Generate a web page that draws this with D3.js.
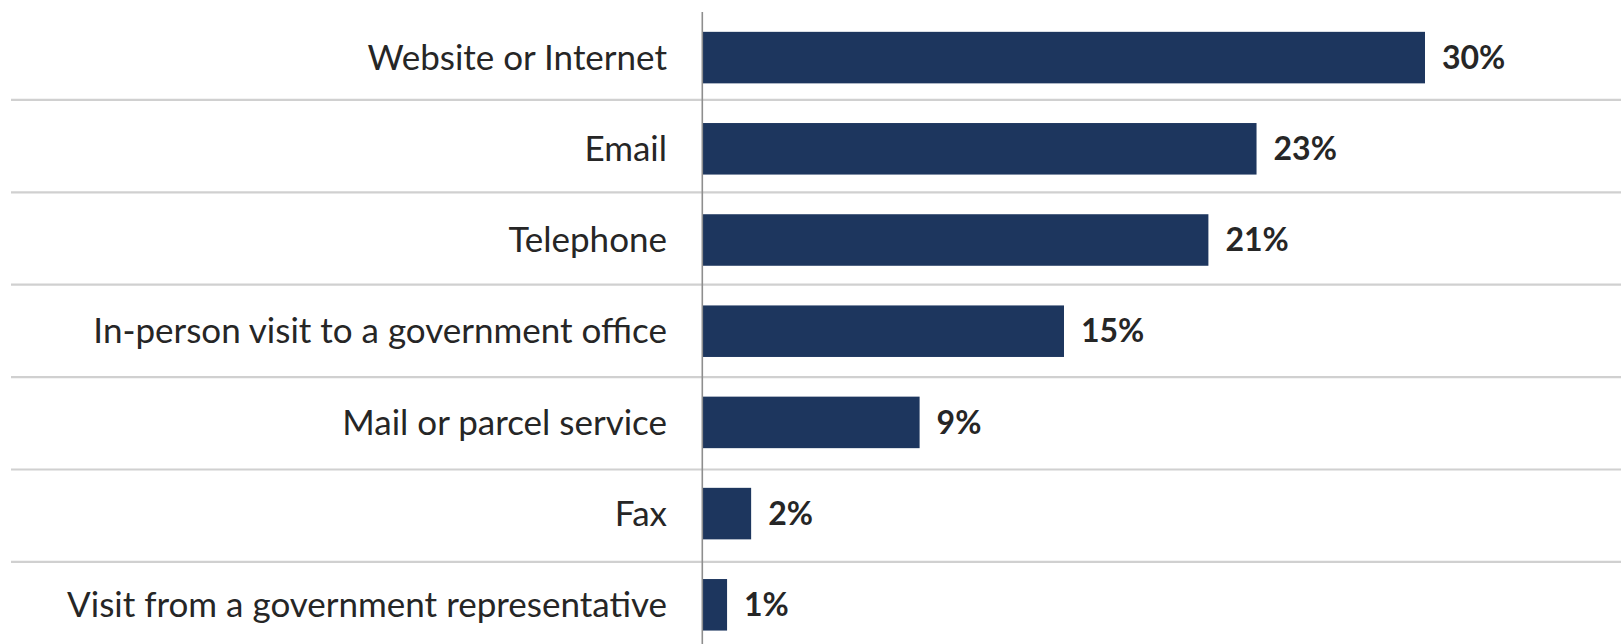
<!DOCTYPE html>
<html>
<head>
<meta charset="utf-8">
<script src="https://cdn.jsdelivr.net/npm/d3@7"></script>
<style>
  html, body { margin: 0; padding: 0; background: #ffffff; }
  svg { display: block; }
</style>
</head>
<body>
<svg id="chart" width="1621" height="644"></svg>
<script>
// Channels used to contact government, share of respondents (%)
const categories = [
  "Website or Internet",
  "Email",
  "Telephone",
  "In-person visit to a government office",
  "Mail or parcel service",
  "Fax",
  "Visit from a government representative"
];
const values = [30, 23, 21, 15, 9, 2, 1];
const valueLabels = ["30%", "23%", "21%", "15%", "9%", "2%", "1%"];

const W = 1621, H = 644;
const svg = d3.select("#chart");

const x = d3.scaleLinear().domain([0, 30]).range([703, 1425]);

// Bar rows
const y = d3.scaleBand()
  .domain(categories)
  .range([12, 12 + 7 * 91.2])
  .paddingInner(0.435)
  .paddingOuter(0.2175);

// Row separators between categories
const rows = d3.scaleBand()
  .domain(categories)
  .range([7.5, 7.5 + 7 * 92.4]);

const gridY = categories.slice(1).map(c => rows(c));

svg.append("g")
  .selectAll("line")
  .data(gridY)
  .join("line")
  .attr("x1", 11)
  .attr("x2", W)
  .attr("y1", d => d)
  .attr("y2", d => d)
  .attr("stroke", "#d0d0d0")
  .attr("stroke-width", 2.2);

svg.append("g")
  .selectAll("rect")
  .data(values)
  .join("rect")
  .attr("x", x(0))
  .attr("y", (d, i) => y(categories[i]))
  .attr("width", d => x(d) - x(0))
  .attr("height", y.bandwidth())
  .attr("fill", "#1d365e");

// Vertical category axis line
svg.append("line")
  .attr("x1", 702.3)
  .attr("x2", 702.3)
  .attr("y1", 12)
  .attr("y2", H)
  .attr("stroke", "#8e8e8e")
  .attr("stroke-width", 1.6);

// Category labels
svg.append("g")
  .selectAll("text")
  .data(categories)
  .join("text")
  .attr("x", 667)
  .attr("y", d => y(d) + y.bandwidth() / 2)
  .attr("dy", "0.35em")
  .attr("text-anchor", "end")
  .attr("font-family", "Lato, 'Open Sans', sans-serif")
  .attr("font-size", 35)
  .attr("fill", "#262626")
  .text(d => d);

// Value labels
svg.append("g")
  .selectAll("text")
  .data(values)
  .join("text")
  .attr("x", d => x(d) + 17)
  .attr("y", (d, i) => y(categories[i]) + y.bandwidth() / 2)
  .attr("dy", "0.35em")
  .attr("font-family", "Lato, 'Open Sans', sans-serif")
  .attr("font-weight", "bold")
  .attr("font-size", 32)
  .attr("fill", "#262626")
  .text((d, i) => valueLabels[i]);
</script>
</body>
</html>
